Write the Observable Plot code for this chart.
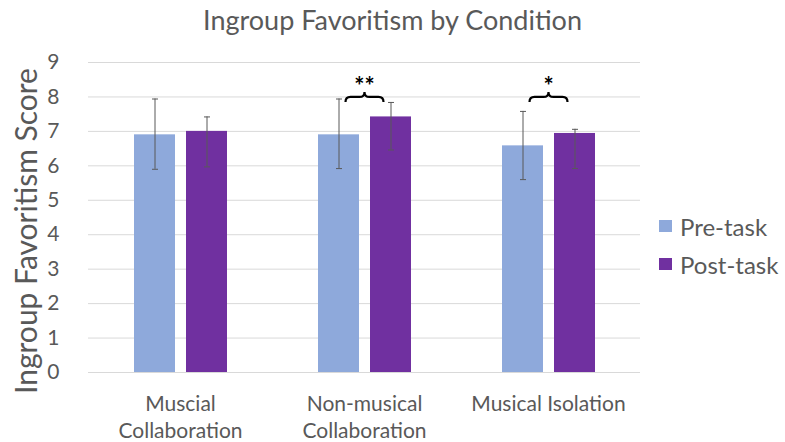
<!DOCTYPE html>
<html><head><meta charset="utf-8">
<script src="https://cdn.jsdelivr.net/npm/d3@7"></script>
<script src="https://cdn.jsdelivr.net/npm/@observablehq/plot@0.6"></script>
<style>
body{margin:0;background:#fff;font-family:Lato,"Open Sans",sans-serif;}
#wrap{position:relative;width:785px;height:442px;overflow:hidden;}
#title{position:absolute;left:0;width:785px;top:3px;text-align:center;font-size:27px;color:#595959;}
#ylab{position:absolute;left:25px;top:231px;transform:translate(-50%,-50%) rotate(-90deg);white-space:nowrap;font-size:30px;color:#595959;}
#legend{position:absolute;left:659px;top:207px;font-size:24px;color:#595959;}
#legend .row{display:flex;align-items:center;height:38px;}
#legend .sw{width:13px;height:12px;margin-right:8px;}
#chart{position:absolute;left:0;top:0;}
</style></head><body>
<div id="wrap"><div id="chart"></div><div id="title"></div><div id="ylab"></div><div id="legend"></div></div>
<script>
const titleText = "Ingroup Favoritism by Condition";
const yLabel = "Ingroup Favoritism Score";
const conditions = ["Muscial Collaboration", "Non-musical Collaboration", "Musical Isolation"];
const conditionLabels = ["Muscial\nCollaboration", "Non-musical\nCollaboration", "Musical Isolation"];
const series = ["Pre-task", "Post-task"];
const preMeans = [6.9, 6.9, 6.58];
const postMeans = [7.0, 7.42, 6.94];
const preErrLow = [5.9, 5.92, 5.6];
const preErrHigh = [7.94, 7.94, 7.58];
const postErrLow = [5.97, 6.46, 5.92];
const postErrHigh = [7.42, 7.84, 7.06];
const sigMarks = ["", "**", "*"];
const sigLevel = [null, 8.0, 8.0];
const yTicks = [0, 1, 2, 3, 4, 5, 6, 7, 8, 9];
const colors = ["#8EA9DB", "#7030A0"];

const rows = [];
conditions.forEach((c, i) => {
  rows.push({condition: c, series: series[0], mean: preMeans[i], lo: preErrLow[i], hi: preErrHigh[i]});
  rows.push({condition: c, series: series[1], mean: postMeans[i], lo: postErrLow[i], hi: postErrHigh[i]});
});
const sig = conditions.map((c, i) => ({condition: c, mark: sigMarks[i], level: sigLevel[i]})).filter(d => d.level != null);
const labels = conditions.map((c, i) => ({condition: c, label: conditionLabels[i]}));

const capSymbol = {draw(ctx) { ctx.moveTo(-3, 0); ctx.lineTo(3, 0); }};
const braceSymbol = {draw(ctx) {
  ctx.moveTo(-19, 5);
  ctx.quadraticCurveTo(-19, 0, -14, 0);
  ctx.lineTo(-5, 0);
  ctx.quadraticCurveTo(0, 0, 0, -5);
  ctx.quadraticCurveTo(0, 0, 5, 0);
  ctx.lineTo(14, 0);
  ctx.quadraticCurveTo(19, 0, 19, 5);
}};

const chart = Plot.plot({
  width: 785, height: 442,
  marginTop: 62, marginBottom: 70, marginLeft: 87, marginRight: 144,
  style: {fontFamily: "Lato, 'Open Sans', sans-serif", color: "#595959", background: "transparent"},
  fx: {domain: conditions, padding: 0, axis: null, label: null},
  x: {domain: series, paddingInner: 0.22, paddingOuter: 0.87, axis: null},
  y: {domain: [0, 9], ticks: yTicks, label: null},
  color: {domain: series, range: colors},
  marks: [
    Plot.gridY(yTicks, {stroke: "#d9d9d9", strokeOpacity: 1}),
    Plot.axisY({ticks: yTicks, tickSize: 0, tickPadding: 29, fontSize: 21, label: null, fill: "#595959"}),
    Plot.barY(rows, {fx: "condition", x: "series", y: "mean", fill: "series"}),
    Plot.ruleX(rows, {fx: "condition", x: "series", y1: "lo", y2: "hi", stroke: "#595959", strokeWidth: 1}),
    Plot.dot(rows, {fx: "condition", x: "series", y: "lo", symbol: capSymbol, stroke: "#595959", fill: "none", strokeWidth: 1}),
    Plot.dot(rows, {fx: "condition", x: "series", y: "hi", symbol: capSymbol, stroke: "#595959", fill: "none", strokeWidth: 1}),
    Plot.dot(sig, {fx: "condition", y: "level", symbol: braceSymbol, stroke: "#000", fill: "none", strokeWidth: 2.2}),
    Plot.text(sig, {fx: "condition", y: "level", text: "mark", dy: -10, fontSize: 24, fontWeight: "bold", fill: "#000"}),
    Plot.text(labels, {fx: "condition", text: "label", frameAnchor: "bottom", lineAnchor: "top", dy: 19, fontSize: 21, lineHeight: 1.29, fill: "#595959"})
  ]
});
document.getElementById("chart").appendChild(chart);
document.getElementById("title").textContent = titleText;
document.getElementById("ylab").textContent = yLabel;
const legend = document.getElementById("legend");
series.forEach((s, i) => {
  const r = document.createElement("div"); r.className = "row";
  const sw = document.createElement("div"); sw.className = "sw"; sw.style.background = colors[i];
  const t = document.createElement("span"); t.textContent = s;
  r.appendChild(sw); r.appendChild(t); legend.appendChild(r);
});
</script></body></html>
